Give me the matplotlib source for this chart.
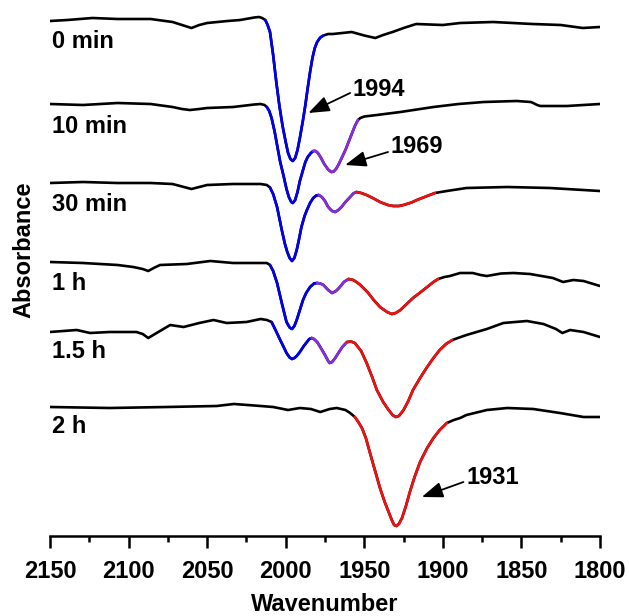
import matplotlib
matplotlib.use("Agg")
import matplotlib.pyplot as plt
import numpy as np

plt.rcParams['font.family'] = ['Liberation Sans', 'DejaVu Sans']

# ---------------- data ----------------
wn_0min = [2150, 2139, 2123, 2107, 2086, 2072, 2066, 2060, 2055, 2050, 2037, 2029, 2020, 2017, 2015, 2013,
           2011.5, 2010, 2008, 2006, 2004, 2002, 2000, 1998.5, 1997, 1995.5, 1994, 1992.5, 1991, 1989,
           1987.5, 1986, 1984.5, 1983, 1981.5, 1980, 1978, 1976, 1973, 1970, 1964, 1958, 1950, 1943,
           1938, 1932, 1925, 1917, 1900, 1889, 1868, 1843, 1825, 1811, 1800]
ab_0min = [-0.01, 0.00, 0.02, 0.01, 0.01, -0.02, -0.05, -0.08, -0.05, -0.03, -0.01, 0.00, 0.025, 0.03, 0.02, 0.00,
           -0.05, -0.12, -0.35, -0.62, -0.86, -1.06, -1.22, -1.33, -1.39, -1.41, -1.38, -1.30, -1.18, -1.00,
           -0.85, -0.68, -0.52, -0.38, -0.28, -0.22, -0.175, -0.155, -0.14, -0.14, -0.13, -0.12, -0.155, -0.18,
           -0.15, -0.12, -0.08, -0.04, -0.05, -0.03, -0.02, -0.04, -0.05, -0.08, -0.07]

wn_10min = [2150, 2129, 2107, 2086, 2072, 2066, 2061, 2055, 2050, 2033.5, 2020, 2016, 2013.5, 2012, 2010.5,
            2009, 2007, 2005.5, 2003.5, 2001.5, 1999.5, 1998, 1996.5, 1995.5, 1994, 1992.5, 1991, 1989,
            1987.5, 1986, 1984, 1982.5, 1981, 1979.5, 1977.5, 1975.5, 1973, 1971, 1969.5, 1968, 1966.5,
            1965, 1962, 1959, 1956, 1954, 1952.5, 1950, 1942, 1927, 1906, 1890, 1874, 1853, 1844, 1842.5,
            1840, 1838, 1821, 1800]
ab_10min = [0.00, -0.01, 0.01, 0.00, -0.03, -0.05, -0.06, -0.05, -0.04, -0.03, -0.005, 0.00, -0.01, -0.03, -0.07,
            -0.14, -0.28, -0.41, -0.58, -0.71, -0.85, -0.93, -0.98, -0.99, -0.96, -0.88, -0.77, -0.66,
            -0.58, -0.53, -0.49, -0.47, -0.47, -0.49, -0.54, -0.60, -0.655, -0.68, -0.675, -0.65, -0.61,
            -0.56, -0.46, -0.34, -0.22, -0.16, -0.14, -0.125, -0.11, -0.08, -0.03, 0.00, 0.02, 0.03, 0.02, 0.01,
            -0.01, -0.02, -0.02, 0.00]

wn_30min = [2150, 2129, 2107, 2086, 2072, 2066, 2060, 2055, 2050, 2033.5, 2016, 2012, 2010, 2008, 2005.5,
            2002.5, 2000.5, 1999, 1997.5, 1996, 1994.5, 1993, 1991.5, 1990, 1988, 1986.5, 1984.5, 1982.5,
            1980.5, 1979, 1977, 1975, 1973, 1970.5, 1968.5, 1966.5, 1964.5, 1962, 1959, 1957, 1955, 1952,
            1948.5, 1944, 1940, 1935, 1931.5, 1928, 1925, 1920, 1916.5, 1910, 1905, 1897.5, 1885, 1859,
            1832, 1800]
ab_30min = [0.00, 0.01, 0.00, 0.00, -0.01, -0.035, -0.06, -0.04, -0.02, -0.01, -0.01, -0.02, -0.045, -0.11, -0.24,
            -0.47, -0.61, -0.69, -0.75, -0.78, -0.75, -0.67, -0.56, -0.44, -0.33, -0.27, -0.20, -0.15,
            -0.125, -0.12, -0.14, -0.18, -0.24, -0.28, -0.29, -0.27, -0.24, -0.19, -0.14, -0.105, -0.09, -0.10,
            -0.12, -0.155, -0.19, -0.22, -0.23, -0.23, -0.22, -0.195, -0.17, -0.13, -0.10, -0.08, -0.05, -0.04,
            -0.05, -0.08]

wn_1h = [2150, 2129, 2107, 2097, 2091, 2087.5, 2084, 2080, 2063, 2048, 2033.5, 2012, 2010, 2008, 2005.5,
         2002.5, 1999.5, 1997.5, 1996, 1994.5, 1993, 1991, 1989, 1987, 1984.5, 1982, 1980, 1978, 1976,
         1973, 1970.5, 1968, 1965.5, 1963, 1960, 1957, 1955, 1952.5, 1948, 1944, 1940, 1935.5, 1932.5,
         1930, 1927, 1923, 1919, 1914, 1910, 1906, 1903, 1899, 1895.5, 1889, 1881, 1876, 1872, 1863,
         1855, 1844.5, 1830, 1823.5, 1817, 1810.5, 1800]
ab_1h = [0.00, -0.01, -0.03, -0.05, -0.07, -0.09, -0.06, -0.03, -0.02, 0.01, -0.01, -0.01, -0.03, -0.09, -0.21,
         -0.41, -0.60, -0.655, -0.67, -0.64, -0.58, -0.48, -0.38, -0.31, -0.25, -0.215, -0.21, -0.215, -0.23,
         -0.28, -0.31, -0.29, -0.25, -0.20, -0.17, -0.18, -0.20, -0.23, -0.30, -0.38, -0.45, -0.50, -0.52,
         -0.51, -0.48, -0.42, -0.36, -0.30, -0.25, -0.20, -0.17, -0.15, -0.14, -0.11, -0.11, -0.13, -0.14, -0.115,
         -0.11, -0.12, -0.16, -0.20, -0.18, -0.19, -0.24]

wn_15h = [2150, 2133, 2124.5, 2112, 2095, 2091, 2087.5, 2080, 2073.5, 2065, 2055, 2046, 2037.5, 2025, 2016,
          2012, 2009, 2006.5, 2003.5, 2001, 1999.5, 1997.5, 1996, 1994.5, 1993, 1991, 1988.5, 1986.5,
          1985, 1983.5, 1982, 1980, 1978, 1975, 1973, 1972, 1970.5, 1968.5, 1966.5, 1964, 1961, 1958.5,
          1956, 1952, 1948.5, 1945, 1942, 1938, 1934.5, 1932, 1930, 1928, 1925, 1922, 1919, 1914.5, 1910,
          1906, 1902, 1898, 1894, 1885, 1872, 1861.5, 1846.5, 1836, 1828, 1824, 1819, 1810.5, 1800]
ab_15h = [0.00, 0.02, -0.01, 0.00, 0.00, -0.02, -0.06, 0.01, 0.07, 0.05, 0.09, 0.12, 0.09, 0.10, 0.13,
          0.12, 0.10, 0.02, -0.08, -0.16, -0.21, -0.255, -0.27, -0.26, -0.24, -0.20, -0.14, -0.10,
          -0.07, -0.06, -0.07, -0.10, -0.15, -0.23, -0.29, -0.31, -0.30, -0.26, -0.21, -0.15, -0.10, -0.095,
          -0.11, -0.19, -0.31, -0.45, -0.58, -0.70, -0.78, -0.83, -0.85, -0.84, -0.78, -0.69, -0.58, -0.46, -0.35,
          -0.26, -0.18, -0.12, -0.08, -0.03, 0.03, 0.09, 0.11, 0.08, 0.03, -0.01, 0.02, 0.00, -0.05]

wn_2h = [2150, 2112, 2076, 2044, 2033, 2020, 2008, 1998.5, 1991, 1984, 1978, 1972, 1967.5, 1962, 1959, 1956,
         1954, 1951.5, 1949, 1946, 1943, 1940, 1937, 1934.5, 1932.5, 1931, 1929.5, 1928, 1926, 1923.5, 1921,
         1918, 1914.5, 1910, 1906, 1902, 1897.5, 1893, 1889, 1885, 1872, 1859, 1842.5, 1825.5, 1810.5, 1800]
ab_2h = [0.00, -0.01, 0.00, 0.01, 0.03, 0.015, 0.00, -0.03, -0.01, -0.02, -0.05, -0.02, -0.01, -0.03, -0.06, -0.10,
         -0.145, -0.21, -0.31, -0.48, -0.645, -0.81, -0.95, -1.05, -1.13, -1.18, -1.19, -1.17, -1.11, -0.99, -0.85,
         -0.70, -0.55, -0.41, -0.31, -0.23, -0.16, -0.13, -0.11, -0.08, -0.03, -0.01, -0.02, -0.06, -0.10, -0.10]

labels = ['0 min', '10 min', '30 min', '1 h', '1.5 h', '2 h']
wavenumbers = [wn_0min, wn_10min, wn_30min, wn_1h, wn_15h, wn_2h]
absorbances = [ab_0min, ab_10min, ab_30min, ab_1h, ab_15h, ab_2h]

# colored regions (high, low wavenumber, colour key)
regions = [
    [(2013, 1976, 'b')],
    [(2012, 1982.5, 'b'), (1982.5, 1954, 'p')],
    [(2010, 1979, 'b'), (1979, 1955, 'p'), (1955, 1905, 'r')],
    [(2010, 1980, 'b'), (1980, 1960, 'p'), (1960, 1903, 'r')],
    [(2009, 1983.5, 'b'), (1983.5, 1961, 'p'), (1961, 1894, 'r')],
    [(1956, 1897.5, 'r')],
]

peak_labels = ['1994', '1969', '1931']
# ---------------- layout ----------------
offsets = [5.16, 4.32, 3.53, 2.74, 2.04, 1.29]
label_tops = [5.06, 4.21, 3.43, 2.64, 1.96, 1.21]
colors = {'k': '#000000', 'b': '#0000f0', 'p': '#8a2be2', 'r': '#f01010'}
arrow_heads = [(1985.6, 4.23), (1962.2, 3.71), (1913.4, 0.39)]
arrow_tails = [(1959.0, 4.43), (1934.9, 3.84), (1886.9, 0.54)]
text_pos = [(1957.8, 4.47), (1933.6, 3.89), (1884.8, 0.59)]

W, H = 629, 616
fig = plt.figure(figsize=(W / 100, H / 100), dpi=100)
ax = fig.add_axes([50 / W, (H - 536) / H, 550 / W, 526 / H])
ax.set_xlim(2150, 1800)
ax.set_ylim(0, 5.26)

lw = 1.9
for wn, ab, off, segs in zip(wavenumbers, absorbances, offsets, regions):
    wn = np.asarray(wn, float)
    y = np.asarray(ab, float) + off
    ax.plot(wn, y, color=colors['k'], lw=lw, solid_joinstyle='round', solid_capstyle='round')
    for hi, lo, c in segs:
        m = (wn <= hi) & (wn >= lo)
        ax.plot(wn[m], y[m], color=colors[c], lw=lw, solid_joinstyle='round', solid_capstyle='round')

for lab, top in zip(labels, label_tops):
    ax.text(2149, top, lab, ha='left', va='top', fontsize=17, fontweight='bold')

for lab, head, tail, tp in zip(peak_labels, arrow_heads, arrow_tails, text_pos):
    ax.annotate('', xy=head, xytext=tail,
                arrowprops=dict(arrowstyle='-|>,head_length=0.8,head_width=0.3', lw=1.3,
                                color='black', shrinkA=0, shrinkB=0, mutation_scale=16))
    ax.text(tp[0], tp[1], lab, ha='left', va='center', fontsize=17, fontweight='bold')

for s in ['left', 'right', 'top']:
    ax.spines[s].set_visible(False)
ax.spines['bottom'].set_linewidth(1.8)
ax.set_yticks([])
ax.set_xticks(np.arange(2150, 1799, -50))
ax.set_xticks(np.arange(2125, 1800, -50), minor=True)
ax.tick_params(axis='x', which='major', length=8.5, width=1.8, direction='out', pad=9,
               labelsize=17)
ax.tick_params(axis='x', which='minor', length=4.3, width=1.8, direction='out')
for t in ax.get_xticklabels():
    t.set_fontweight('bold')

fig.text(325 / W, 1 - 611 / H, 'Wavenumber', ha='center', va='baseline', fontsize=17, fontweight='bold')
fig.text(24 / W, 1 - 250 / H, 'Absorbance', ha='center', va='center', rotation=90,
         fontsize=17, fontweight='bold')

fig.savefig('out.png', dpi=100)
